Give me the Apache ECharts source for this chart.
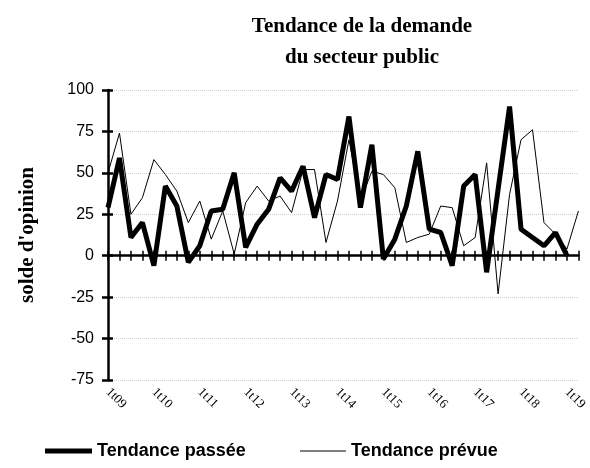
<!DOCTYPE html>
<html>
<head>
<meta charset="utf-8">
<script src="https://cdn.jsdelivr.net/npm/echarts@6/dist/echarts.min.js"></script>
<style>
html, body { margin: 0; padding: 0; background: #fff; }
#chart { width: 590px; height: 468px; }
</style>
</head>
<body>
<div id="chart"></div>
<script>
// trimestres 1t09 .. 2t19
var quarters = ['1t09','2t09','3t09','4t09','1t10','2t10','3t10','4t10',
    '1t11','2t11','3t11','4t11','1t12','2t12','3t12','4t12',
    '1t13','2t13','3t13','4t13','1t14','2t14','3t14','4t14',
    '1t15','2t15','3t15','4t15','1t16','2t16','3t16','4t16',
    '1t17','2t17','3t17','4t17','1t18','2t18','3t18','4t18',
    '1t19','2t19'];
// solde d'opinion
var passee = [29, 59, 11, 20, -6, 42, 30, -4, 6, 27, 28, 50, 5, 19, 28, 47,
    39, 54, 23, 49, 46, 84, 29, 67, -2, 10, 30, 63, 16, 14, -6, 42,
    49, -10, 40, 90, 16, 11, 6, 14, 0];
var prevue = [50, 74, 25, 35, 58, 49, 39, 20, 33, 10, 27, 1, 32, 42, 33, 36,
    26, 52, 52, 8, 33, 70, 33, 51, 49, 41, 8, 11, 13, 30, 29, 6,
    11, 56, -23, 37, 70, 76, 20, 13, 4, 27];
var yTicks = [-75, -50, -25, 0, 25, 50, 75, 100];

var myChart = echarts.init(document.getElementById('chart'));

var legendText = {fontFamily: 'Liberation Sans', fontWeight: 'bold', fontSize: 18, color: '#000'};

var option = {
    animation: false,
    title: {
        text: 'Tendance de la demande\ndu secteur public',
        left: 357,
        top: 6,
        textAlign: 'center',
        textStyle: {
            fontFamily: 'Liberation Serif',
            fontWeight: 'bold',
            fontSize: 21,
            lineHeight: 31,
            color: '#000'
        }
    },
    legend: [
        {
            data: ['Tendance passée'],
            left: 45,
            top: 442,
            padding: 0,
            icon: 'rect',
            itemWidth: 47,
            itemHeight: 5,
            itemGap: 5,
            textStyle: legendText
        },
        {
            data: ['Tendance prévue'],
            left: 300,
            top: 442,
            padding: 0,
            icon: 'rect',
            itemWidth: 46,
            itemHeight: 1,
            itemGap: 5,
            textStyle: legendText
        }
    ],
    grid: {
        left: 108,
        right: 10,
        top: 90,
        bottom: 88,
        containLabel: false
    },
    xAxis: [
        {
            // axe sur le zéro : ligne + graduations vers le bas
            type: 'category',
            data: quarters,
            boundaryGap: false,
            axisLine: {onZero: true, lineStyle: {color: '#000', width: 2.5}},
            axisTick: {show: true, interval: 0, length: 5, lineStyle: {color: '#000', width: 1.5}},
            axisLabel: {show: false},
            splitLine: {show: false}
        },
        {
            // graduations vers le haut
            type: 'category',
            data: quarters,
            boundaryGap: false,
            position: 'bottom',
            axisLine: {show: false, onZero: true},
            axisTick: {show: true, inside: true, interval: 0, length: 5, lineStyle: {color: '#000', width: 1.5}},
            axisLabel: {show: false},
            splitLine: {show: false}
        },
        {
            // libellés en bas
            type: 'category',
            data: quarters,
            boundaryGap: false,
            position: 'bottom',
            axisLine: {show: false, onZero: false},
            axisTick: {show: false},
            axisLabel: {
                interval: 3,
                rotate: -45,
                margin: 10,
                fontFamily: 'Liberation Serif',
                fontSize: 13,
                color: '#000'
            },
            splitLine: {show: false}
        }
    ],
    yAxis: [
        {
            type: 'value',
            min: -75,
            max: 100,
            interval: 25,
            name: "solde d'opinion",
            nameLocation: 'middle',
            nameGap: 70,
            nameRotate: 90,
            nameTextStyle: {fontFamily: 'Liberation Serif', fontWeight: 'bold', fontSize: 21, color: '#000'},
            axisLine: {show: true, lineStyle: {color: '#000', width: 2.5}},
            axisTick: {show: true, length: 6, lineStyle: {color: '#000', width: 2.5}},
            axisLabel: {
                margin: 14,
                fontFamily: 'Liberation Sans',
                fontSize: 16,
                color: '#000',
                formatter: function (v) { return yTicks.indexOf(v) >= 0 ? String(v) : ''; }
            },
            splitLine: {show: true, lineStyle: {color: '#cfcfcf', type: 'dotted', width: 1}}
        },
        {
            type: 'value',
            min: -75,
            max: 100,
            interval: 25,
            position: 'left',
            axisLine: {show: false},
            axisTick: {show: true, inside: true, length: 5, lineStyle: {color: '#000', width: 2.5}},
            axisLabel: {show: false},
            splitLine: {show: false}
        }
    ],
    series: [
        {
            name: 'Tendance prévue',
            type: 'line',
            data: prevue,
            symbol: 'none',
            lineStyle: {color: '#000', width: 1},
            itemStyle: {color: '#000'},
            z: 3
        },
        {
            name: 'Tendance passée',
            type: 'line',
            data: passee,
            symbol: 'none',
            lineStyle: {color: '#000', width: 5},
            itemStyle: {color: '#000'},
            z: 4
        }
    ]
};

myChart.setOption(option);
</script>
</body>
</html>
